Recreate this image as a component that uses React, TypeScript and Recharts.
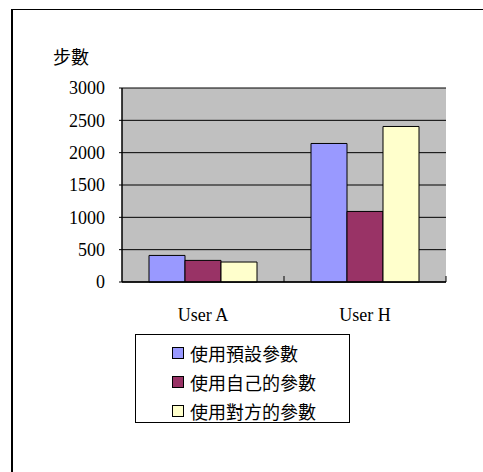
import React from 'react';
import { BarChart, Bar, XAxis, YAxis, CartesianGrid, Legend } from 'recharts';

const categories = ['User A', 'User H'];
const seriesNames = ['使用預設參數', '使用自己的參數', '使用對方的參數'];
const defaultParams = [411, 2142];
const ownParams = [334, 1091];
const otherParams = [309, 2405];
const yTicks = [0, 500, 1000, 1500, 2000, 2500, 3000];
const yLabel = '步數';
const colors = ['#9999FF', '#993366', '#FFFFCC'];

const data = categories.map((c, i) => ({
  name: c,
  s0: defaultParams[i],
  s1: ownParams[i],
  s2: otherParams[i],
}));

const serif = '"Liberation Serif", "Times New Roman", serif';
const cjk = '"Noto Sans CJK TC", "Noto Sans", sans-serif';

const XTick = (props: any) => {
  const { x, y, payload } = props;
  const off = payload && payload.offset ? payload.offset : 0;
  return (
    <g>
      <line x1={x + off} x2={x + off} y1={y} y2={y - 6} stroke="#000" strokeWidth={1} />
      <text x={x} y={y + 39} textAnchor="middle" fontFamily={serif} fontSize={18} fill="#000">
        {payload.value}
      </text>
    </g>
  );
};

const LegendContent = () => (
  <div style={{ paddingTop: 3 }}>
    {seriesNames.map((n, i) => (
      <div key={n} style={{ display: 'flex', alignItems: 'center', height: 29, paddingLeft: 36 }}>
        <span style={{ display: 'inline-block', width: 10, height: 10, background: colors[i], border: '1px solid #000', marginRight: 6 }} />
        <span style={{ fontFamily: cjk, fontSize: 18, color: '#000', lineHeight: '20px' }}>{n}</span>
      </div>
    ))}
  </div>
);

const YLabel = (props: any) => {
  const vb = props.viewBox || { x: 62, y: 88 };
  return (
    <text x={vb.x - 9} y={vb.y - 24} fontFamily={cjk} fontSize={18} fill="#000">
      {yLabel}
    </text>
  );
};

export default function App() {
  return (
    <div style={{ position: 'absolute', left: 0, top: 0, width: 483, height: 472, background: '#fff' }}>
      <div style={{ position: 'absolute', left: 11, top: 9, width: 472, height: 463, borderTop: '1px solid #000', borderLeft: '2px solid #000' }} />
      <BarChart
        width={483}
        height={472}
        data={data}
        margin={{ top: 88, right: 37, bottom: 160, left: 62 }}
        barGap={0}
        barCategoryGap={27}
      >
        <CartesianGrid vertical={false} horizontal={true} stroke="#000" fill="#C0C0C0" fillOpacity={1} />
        <XAxis
          dataKey="name"
          axisLine={{ stroke: '#000', strokeWidth: 1.5 }}
          tickLine={false}
          tickSize={0}
          tickMargin={0}
          height={30}
          tick={<XTick />}
          interval={0}
        />
        <YAxis
          width={60}
          domain={[0, 3000]}
          ticks={yTicks}
          interval={0}
          axisLine={{ stroke: '#000', strokeWidth: 1.5 }}
          tickLine={{ stroke: '#000' }}
          tickSize={3}
          tickMargin={14}
          tick={{ fontFamily: serif, fontSize: 18, fill: '#000' }}
          label={<YLabel />}
        />
        <YAxis
          yAxisId="right"
          orientation="right"
          width={0}
          domain={[0, 3000]}
          tick={false}
          tickLine={false}
          axisLine={{ stroke: '#808080', strokeWidth: 1.5 }}
        />
        <Legend
          layout="vertical"
          align="center"
          verticalAlign="middle"
          content={<LegendContent />}
          wrapperStyle={{ position: 'absolute', left: 135, top: 334, width: 215, height: 89, border: '1px solid #000', background: '#fff', boxSizing: 'border-box' }}
        />
        <Bar dataKey="s0" name={seriesNames[0]} fill={colors[0]} stroke="#000" strokeWidth={1} isAnimationActive={false} />
        <Bar dataKey="s1" name={seriesNames[1]} fill={colors[1]} stroke="#000" strokeWidth={1} isAnimationActive={false} />
        <Bar dataKey="s2" name={seriesNames[2]} fill={colors[2]} stroke="#000" strokeWidth={1} isAnimationActive={false} />
      </BarChart>
    </div>
  );
}
